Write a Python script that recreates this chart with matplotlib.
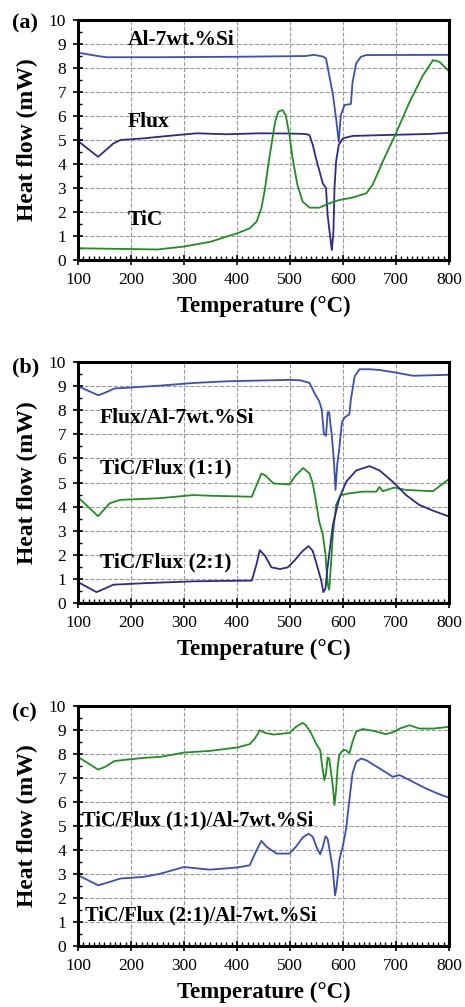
import matplotlib
matplotlib.use("Agg")
import matplotlib.pyplot as plt
from matplotlib.ticker import MultipleLocator

plt.rcParams['font.family'] = ['Liberation Serif', 'DejaVu Serif']

# ---------- (a) ----------
al_T = [100, 135, 154, 250, 400, 530, 545, 562, 568, 574, 581, 587, 592, 596, 603, 615, 618, 625, 634, 644, 800]
al_v = [8.64, 8.51, 8.45, 8.45, 8.47, 8.5, 8.55, 8.48, 8.4, 7.7, 6.9, 5.9, 4.93, 6.04, 6.46, 6.5, 7.4, 8.2, 8.47, 8.54, 8.55]

flux_T = [100, 138, 167, 180, 224, 255, 324, 380, 443, 500, 530, 537, 543, 549, 556, 562, 568, 571, 574, 577, 579, 582, 584, 587, 592, 600, 618, 700, 760, 800]
flux_v = [4.96, 4.3, 4.86, 5.0, 5.07, 5.14, 5.28, 5.24, 5.28, 5.27, 5.25, 5.2, 4.8, 4.24, 3.68, 3.19, 2.99, 1.88, 1.32, 0.76, 0.42, 1.18, 2.99, 4.1, 4.8, 5.07, 5.17, 5.22, 5.25, 5.3]

tic_T = [100, 250, 300, 350, 400, 424, 437, 446, 453, 459, 466, 472, 478, 486, 492, 499, 505, 514, 524, 537, 555, 574, 593, 618, 644, 656, 675, 700, 726, 751, 770, 782, 800]
tic_v = [0.49, 0.44, 0.56, 0.76, 1.11, 1.32, 1.6, 2.15, 2.99, 3.96, 4.93, 5.76, 6.18, 6.25, 6.04, 5.2, 4.24, 3.13, 2.43, 2.18, 2.18, 2.36, 2.5, 2.6, 2.78, 3.13, 4.1, 5.28, 6.6, 7.7, 8.33, 8.26, 7.87]

# ---------- (b) ----------
fal_T = [100, 138, 147, 169, 255, 318, 380, 500, 520, 537, 546, 555, 560, 564, 568, 571, 574, 576, 579, 583, 586, 589, 593, 598, 603, 612, 615, 622, 631, 650, 669, 700, 732, 800]
fal_v = [9.0, 8.62, 8.69, 8.9, 9.02, 9.13, 9.2, 9.26, 9.24, 9.13, 8.72, 8.38, 8.03, 7.01, 6.94, 7.9, 7.92, 7.49, 6.94, 5.85, 4.69, 5.71, 6.4, 7.49, 7.7, 7.83, 8.45, 9.4, 9.7, 9.7, 9.67, 9.56, 9.43, 9.47]

tf11_T = [100, 138, 160, 180, 255, 318, 349, 428, 437, 446, 453, 469, 499, 511, 525, 537, 543, 549, 555, 562, 567, 571, 574, 577, 581, 587, 596, 612, 637, 663, 669, 675, 697, 719, 770, 789, 800]
tf11_v = [4.39, 3.6, 4.14, 4.28, 4.35, 4.48, 4.45, 4.41, 4.89, 5.37, 5.3, 4.96, 4.92, 5.3, 5.6, 5.37, 4.96, 4.21, 3.39, 2.84, 2.02, 0.8, 0.55, 1.48, 2.84, 4.07, 4.48, 4.55, 4.62, 4.62, 4.82, 4.64, 4.79, 4.69, 4.64, 4.96, 5.14]

tf21_T = [100, 135, 167, 224, 318, 428, 437, 443, 453, 465, 481, 496, 508, 524, 535, 543, 552, 559, 563, 567, 570, 574, 581, 593, 606, 625, 650, 669, 694, 719, 744, 770, 800]
tf21_v = [0.87, 0.45, 0.76, 0.82, 0.9, 0.93, 1.62, 2.19, 1.96, 1.48, 1.41, 1.48, 1.75, 2.16, 2.36, 2.16, 1.48, 0.93, 0.45, 0.6, 1.3, 2.02, 3.25, 4.34, 5.03, 5.5, 5.68, 5.5, 5.03, 4.48, 4.07, 3.83, 3.59]

# ---------- (c) ----------
g_T = [100, 138, 151, 169, 224, 255, 300, 349, 400, 424, 434, 443, 453, 469, 499, 511, 524, 530, 540, 549, 557, 561, 565, 568, 571, 574, 577, 581, 584, 587, 590, 593, 600, 606, 612, 618, 625, 637, 656, 681, 694, 707, 726, 744, 770, 800]
g_v = [7.88, 7.35, 7.46, 7.71, 7.84, 7.88, 8.06, 8.13, 8.27, 8.41, 8.65, 8.99, 8.88, 8.81, 8.88, 9.13, 9.3, 9.2, 8.86, 8.44, 8.16, 7.47, 6.91, 7.19, 7.85, 7.81, 7.33, 6.63, 5.87, 6.49, 7.47, 7.96, 8.16, 8.16, 8.02, 8.51, 8.93, 9.04, 8.97, 8.83, 8.9, 9.06, 9.2, 9.06, 9.06, 9.13]

b_T = [100, 138, 154, 180, 224, 255, 300, 349, 400, 424, 437, 446, 456, 475, 499, 511, 524, 535, 543, 550, 557, 562, 567, 571, 576, 581, 585, 588, 593, 600, 606, 612, 618, 625, 634, 644, 669, 694, 707, 732, 757, 782, 800]
b_v = [2.95, 2.53, 2.63, 2.81, 2.88, 3.01, 3.29, 3.18, 3.27, 3.36, 3.99, 4.38, 4.13, 3.85, 3.85, 4.13, 4.52, 4.68, 4.55, 4.13, 3.82, 4.13, 4.57, 4.47, 3.85, 3.15, 2.11, 2.46, 3.57, 4.19, 4.89, 6.07, 7.19, 7.67, 7.81, 7.74, 7.4, 7.05, 7.12, 6.84, 6.56, 6.32, 6.18]

blue = "#3a4fb8"
navy = "#2e2a8c"
green = "#1f8f1f"

fig = plt.figure(figsize=(4.65, 10.07), dpi=100)
ax_a = fig.add_axes([0.1677, 0.7418, 0.7978, 0.2383])
ax_b = fig.add_axes([0.1677, 0.4012, 0.7978, 0.2393])
ax_c = fig.add_axes([0.1677, 0.0606, 0.7978, 0.2383])


def style(ax):
    ax.set_xlim(100, 800)
    ax.set_ylim(0, 10)
    ax.xaxis.set_major_locator(MultipleLocator(100))
    ax.xaxis.set_minor_locator(MultipleLocator(10))
    ax.yaxis.set_major_locator(MultipleLocator(1))
    ax.yaxis.set_minor_locator(MultipleLocator(0.5))
    ax.tick_params(which='major', direction='inout', length=7, width=1.2,
                   labelsize=12.5, pad=5, top=False, right=False)
    ax.tick_params(which='minor', direction='in', length=3, width=1,
                   top=False, right=False)
    ax.grid(True, which='major', linestyle='--', color='#999999', linewidth=0.8)
    for s in ax.spines.values():
        s.set_linewidth(2.2)
    ax.set_ylabel("Heat flow (mW)", fontsize=17, fontweight='bold', labelpad=8)
    ax.set_xlabel("Temperature (\u00b0C)", fontsize=16.5, fontweight='bold', labelpad=6)


txt = dict(fontsize=15.5, fontweight='bold', va='center', ha='left')

ax_a.plot(al_T, al_v, color=blue, lw=1.3)
ax_a.plot(flux_T, flux_v, color=navy, lw=1.3)
ax_a.plot(tic_T, tic_v, color=green, lw=1.3)
style(ax_a)
ax_a.text(194, 9.17, "Al-7wt.%Si", **txt)
ax_a.text(194, 5.75, "Flux", **txt)
ax_a.text(194, 1.67, "TiC", **txt)

ax_b.plot(fal_T, fal_v, color=blue, lw=1.3)
ax_b.plot(tf11_T, tf11_v, color=green, lw=1.3)
ax_b.plot(tf21_T, tf21_v, color=navy, lw=1.3)
style(ax_b)
ax_b.text(141, 7.68, "Flux/Al-7wt.%Si", **txt)
ax_b.text(141, 5.59, "TiC/Flux (1:1)", **txt)
ax_b.text(141, 1.7, "TiC/Flux (2:1)", **txt)

ax_c.plot(g_T, g_v, color=green, lw=1.3)
ax_c.plot(b_T, b_v, color=blue, lw=1.3)
style(ax_c)
txt_c = dict(txt, fontsize=14.7)
ax_c.text(107, 5.24, "TiC/Flux (1:1)/Al-7wt.%Si", **txt_c)
ax_c.text(114, 1.28, "TiC/Flux (2:1)/Al-7wt.%Si", **txt_c)

fig.text(12 / 465, 1 - 23 / 1007, "(a)", fontsize=16, fontweight='bold', va='center')
fig.text(12 / 465, 1 - 367 / 1007, "(b)", fontsize=16, fontweight='bold', va='center')
fig.text(12 / 465, 1 - 712 / 1007, "(c)", fontsize=16, fontweight='bold', va='center')

fig.savefig("out.png", dpi=100)
